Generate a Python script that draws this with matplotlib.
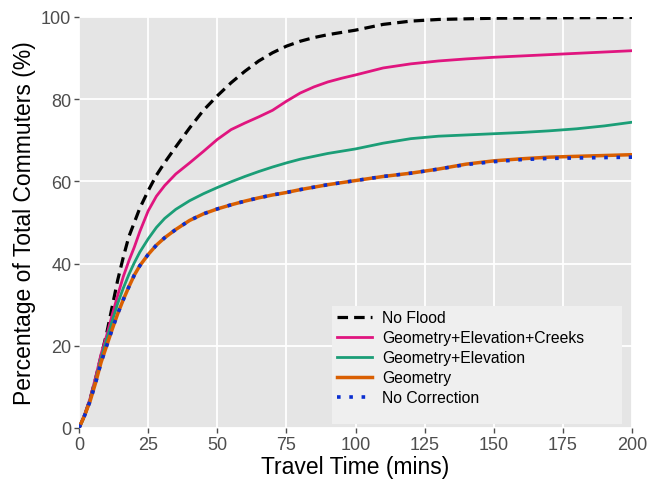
import matplotlib
matplotlib.use("Agg")
import matplotlib.pyplot as plt
from matplotlib.patches import Rectangle

plt.rcParams['font.family'] = ['Liberation Sans', 'DejaVu Sans']

# Travel time (mins) and cumulative percentage of commuters
t_noflood = [0, 2, 4, 6, 8, 10, 12, 14, 16, 18, 20, 22, 25, 28, 31, 35, 40, 45, 50, 55, 60,
             65, 70, 75, 80, 85, 90, 100, 110, 120, 130, 150, 175, 200]
v_noflood = [0, 3, 7, 12, 17.5, 23, 29.5, 36, 41.5, 46.5, 50, 53.5, 57.7, 61.5, 64.6, 68.4,
             73.0, 77.3, 80.8, 84.0, 86.8, 89.3, 91.3, 92.9, 94.1, 95.0, 95.7, 96.8, 98.2,
             99.0, 99.4, 99.7, 99.8, 99.9]

t_gec = [0, 2, 4, 6, 8, 10, 12, 14, 16, 18, 20, 22, 25, 28, 31, 35, 40, 45, 50, 55, 60, 65,
         70, 75, 80, 85, 90, 95, 100, 110, 120, 130, 140, 150, 175, 200]
v_gec = [0, 3.2, 7.2, 12.3, 18.0, 22.5, 27.5, 32.3, 36.8, 40.6, 44, 47.8, 52.8, 56.4, 59.0,
         61.8, 64.5, 67.3, 70.2, 72.6, 74.2, 75.7, 77.3, 79.5, 81.5, 83.0, 84.2, 85.1, 85.9,
         87.6, 88.6, 89.3, 89.8, 90.2, 91.0, 91.8]

t_ge = [0, 2, 4, 6, 8, 10, 12, 14, 16, 18, 20, 22, 25, 28, 31, 35, 40, 45, 50, 55, 60, 65,
        70, 75, 80, 90, 100, 110, 120, 130, 140, 150, 160, 170, 180, 190, 200]
v_ge = [0, 3, 6.8, 11.5, 17, 21.5, 26, 30.3, 34, 37.3, 40.2, 42.8, 46, 48.8, 51.0, 53.2,
        55.3, 57.0, 58.5, 59.9, 61.2, 62.4, 63.5, 64.5, 65.4, 66.8, 67.9, 69.3, 70.4, 71.0,
        71.3, 71.6, 71.9, 72.3, 72.8, 73.5, 74.4]

t_geom = [0, 2, 4, 6, 8, 10, 12, 14, 16, 18, 20, 22, 25, 28, 31, 35, 40, 45, 50, 55, 60, 65,
          70, 75, 80, 90, 100, 110, 120, 130, 140, 150, 160, 170, 180, 190, 200]
v_geom = [0, 3, 6.5, 11, 16, 20, 24, 27.8, 31.2, 34.3, 37.2, 39.5, 42.2, 44.5, 46.3, 48.3,
          50.5, 52.1, 53.3, 54.3, 55.2, 56.0, 56.7, 57.3, 58.0, 59.2, 60.2, 61.2, 62.0, 63.0,
          64.2, 65.0, 65.5, 65.9, 66.1, 66.3, 66.5]

t_nocorr = [0, 2, 4, 6, 8, 10, 12, 14, 16, 18, 20, 22, 25, 28, 31, 35, 40, 45, 50, 55, 60,
            65, 70, 75, 80, 90, 100, 110, 120, 130, 140, 150, 160, 170, 180, 190, 200]
v_nocorr = [0, 3, 6.5, 11, 16, 20, 24, 27.8, 31.2, 34.3, 37.2, 39.5, 42.2, 44.5, 46.3, 48.3,
            50.5, 52.1, 53.3, 54.3, 55.2, 56.0, 56.7, 57.3, 58.0, 59.2, 60.2, 61.2, 62.0,
            63.0, 64.1, 64.8, 65.3, 65.6, 65.7, 65.8, 65.9]

labels = ["No Flood", "Geometry+Elevation+Creeks", "Geometry+Elevation", "Geometry",
          "No Correction"]
x_ticks = [0, 25, 50, 75, 100, 125, 150, 175, 200]
y_ticks = [0, 20, 40, 60, 80, 100]

fig = plt.figure(figsize=(6.48, 4.85), dpi=100)
ax = fig.add_axes([79/648, 1-429/485, (632-79)/648, (429-18)/485])
ax.set_facecolor('#E5E5E5')
for s in ax.spines.values():
    s.set_visible(False)
ax.grid(True, color='white', linewidth=1.3)
ax.set_axisbelow(True)

ax.plot(t_noflood, v_noflood, color='black', lw=2.3, dashes=(3.3, 1.9), label=labels[0])
ax.plot(t_gec, v_gec, color='#E0157F', lw=2.0, label=labels[1])
ax.plot(t_ge, v_ge, color='#1B9E77', lw=2.0, label=labels[2])
ax.plot(t_geom, v_geom, color='#D95F02', lw=2.5, label=labels[3])
ax.plot(t_nocorr, v_nocorr, color='#0A2ED0', lw=2.6, dashes=(1.0, 2.4), label=labels[4])

ax.set_xlim(0, 200)
ax.set_ylim(0, 100)
ax.set_xticks(x_ticks)
ax.set_yticks(y_ticks)
ax.tick_params(axis='both', colors='#4D4D4D', labelsize=13, length=3.5, width=1, pad=2)
for lab in ax.get_xticklabels() + ax.get_yticklabels():
    lab.set_color('#4D4D4D')
ax.set_xlabel("Travel Time (mins)", fontsize=16.5, color='black', labelpad=2)
ax.set_ylabel("Percentage of Total Commuters (%)", fontsize=16.5, color='black', labelpad=4)

# legend background box
ax.add_patch(Rectangle((0.4575, 0.0097), 0.5245, 0.288, transform=ax.transAxes,
                       facecolor='#EFEFEF', edgecolor='none', zorder=3))
leg = ax.legend(loc='upper left', bbox_to_anchor=(0.466, 0.287), borderaxespad=0,
                fontsize=11.3, frameon=False, handlelength=2.25,
                handletextpad=0.64, labelspacing=0.32, borderpad=0)
leg.set_zorder(4)

fig.savefig("out.png", dpi=100)
